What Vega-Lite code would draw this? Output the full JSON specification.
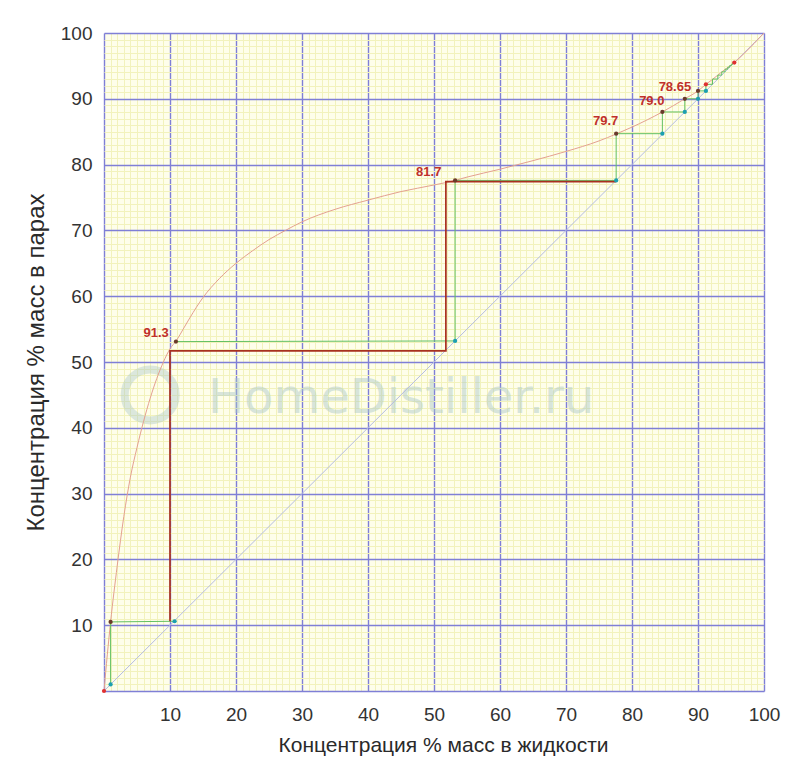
{
  "$schema": "https://vega.github.io/schema/vega-lite/v6.json",
  "autosize": {"type": "none"},
  "padding": {"left": 104, "top": 33, "right": 36, "bottom": 75},
  "width": 660,
  "height": 658,
  "background": "#ffffff",
  "config": {
    "view": {"fill": "#fefeea", "stroke": null},
    "font": "Liberation Sans",
    "axis": {
      "grid": true,
      "ticks": false,
      "domain": false,
      "labelOverlap": false,
      "labelBound": false,
      "labelFlush": false,
      "labelFont": "Liberation Sans",
      "labelFontSize": 19,
      "labelColor": "#333333",
      "titleFont": "Liberation Sans",
      "titleFontWeight": "normal",
      "titleColor": "#2a2a2a",
      "labelExpr": "datum.value % 10 === 0 && datum.value > 0 ? datum.label : ''",
      "gridColor": {"condition": {"test": "datum.value % 10 === 0", "value": "#7f7fd6"}, "value": "#f2f2bc"},
      "gridWidth": {"condition": {"test": "datum.value % 10 === 0", "value": 1.4}, "value": 1}
    }
  },
  "datasets": {
    "curve": [
      {"x": 0, "y": 0}, {"x": 0.5, "y": 5.5}, {"x": 1, "y": 10.5}, {"x": 2, "y": 19.0}, {"x": 3, "y": 26.5},
      {"x": 4, "y": 32.5}, {"x": 5, "y": 37.0}, {"x": 6, "y": 41.0}, {"x": 7, "y": 44.5}, {"x": 8, "y": 47.5},
      {"x": 9, "y": 50.0}, {"x": 10, "y": 52.0}, {"x": 11, "y": 53.3}, {"x": 12, "y": 55.0}, {"x": 13, "y": 56.7},
      {"x": 15, "y": 59.8}, {"x": 17.5, "y": 62.7}, {"x": 20, "y": 65.0}, {"x": 22.5, "y": 66.9}, {"x": 25, "y": 68.6},
      {"x": 27.5, "y": 70.0}, {"x": 30, "y": 71.3}, {"x": 35, "y": 73.2}, {"x": 40, "y": 74.6}, {"x": 45, "y": 75.9},
      {"x": 50, "y": 76.9}, {"x": 53.2, "y": 77.6}, {"x": 55, "y": 78.1}, {"x": 60, "y": 79.3}, {"x": 65, "y": 80.6},
      {"x": 70, "y": 82.0}, {"x": 75, "y": 83.6}, {"x": 77.6, "y": 84.65}, {"x": 80, "y": 85.7}, {"x": 84.6, "y": 88.0},
      {"x": 88, "y": 90.0}, {"x": 90, "y": 91.2}, {"x": 91.2, "y": 92.2}, {"x": 92, "y": 92.8}, {"x": 93, "y": 93.6},
      {"x": 94, "y": 94.4}, {"x": 95, "y": 95.1}, {"x": 95.5, "y": 95.5}, {"x": 97, "y": 96.9}, {"x": 98.5, "y": 98.4},
      {"x": 100, "y": 100}
    ],
    "diag": [{"x": 0, "y": 0}, {"x": 100, "y": 100}],
    "green": [
      {"seg": "a", "o": 1, "x": 1, "y": 1}, {"seg": "a", "o": 2, "x": 1, "y": 10.5}, {"seg": "a", "o": 3, "x": 10.7, "y": 10.6},
      {"seg": "b", "o": 1, "x": 10.9, "y": 53.1}, {"seg": "b", "o": 2, "x": 53.2, "y": 53.2}, {"seg": "b", "o": 3, "x": 53.2, "y": 77.6},
      {"seg": "b", "o": 4, "x": 77.6, "y": 77.6}, {"seg": "b", "o": 5, "x": 77.6, "y": 84.7}, {"seg": "b", "o": 6, "x": 84.6, "y": 84.7},
      {"seg": "b", "o": 7, "x": 84.6, "y": 88.0}, {"seg": "b", "o": 8, "x": 88.0, "y": 88.0}, {"seg": "b", "o": 9, "x": 88.0, "y": 90.0},
      {"seg": "b", "o": 10, "x": 90.0, "y": 90.0}, {"seg": "b", "o": 11, "x": 90.0, "y": 91.2}, {"seg": "b", "o": 12, "x": 91.2, "y": 91.2},
      {"seg": "b", "o": 13, "x": 91.2, "y": 92.2}, {"seg": "b", "o": 14, "x": 92.2, "y": 92.2}, {"seg": "b", "o": 15, "x": 92.2, "y": 93.0},
      {"seg": "b", "o": 16, "x": 93.0, "y": 93.0}, {"seg": "b", "o": 17, "x": 93.0, "y": 93.6}, {"seg": "b", "o": 18, "x": 93.6, "y": 93.6},
      {"seg": "b", "o": 19, "x": 93.6, "y": 94.1}, {"seg": "b", "o": 20, "x": 94.1, "y": 94.1}, {"seg": "b", "o": 21, "x": 94.1, "y": 94.5},
      {"seg": "b", "o": 22, "x": 94.5, "y": 94.5}, {"seg": "b", "o": 23, "x": 94.5, "y": 94.8}, {"seg": "b", "o": 24, "x": 94.8, "y": 94.8},
      {"seg": "b", "o": 25, "x": 94.8, "y": 95.05}, {"seg": "b", "o": 26, "x": 95.05, "y": 95.05}, {"seg": "b", "o": 27, "x": 95.05, "y": 95.25},
      {"seg": "b", "o": 28, "x": 95.25, "y": 95.25}, {"seg": "b", "o": 29, "x": 95.25, "y": 95.4}, {"seg": "b", "o": 30, "x": 95.5, "y": 95.5}
    ],
    "brown": [
      {"o": 1, "x": 10.0, "y": 10.6}, {"o": 2, "x": 10.0, "y": 51.7}, {"o": 3, "x": 51.8, "y": 51.7},
      {"o": 4, "x": 51.8, "y": 77.4}, {"o": 5, "x": 77.6, "y": 77.4}
    ],
    "points": [
      {"kind": "red", "x": 0, "y": 0},
      {"kind": "diag", "x": 1, "y": 1},
      {"kind": "curve", "x": 1, "y": 10.5},
      {"kind": "diag", "x": 10.7, "y": 10.6},
      {"kind": "curve", "x": 10.9, "y": 53.1},
      {"kind": "diag", "x": 53.2, "y": 53.2},
      {"kind": "curve", "x": 53.2, "y": 77.6},
      {"kind": "diag", "x": 77.6, "y": 77.6},
      {"kind": "curve", "x": 77.6, "y": 84.7},
      {"kind": "diag", "x": 84.6, "y": 84.7},
      {"kind": "curve", "x": 84.6, "y": 88.0},
      {"kind": "diag", "x": 88.0, "y": 88.0},
      {"kind": "curve", "x": 88.0, "y": 90.0},
      {"kind": "diag", "x": 90.0, "y": 90.0},
      {"kind": "curve", "x": 90.0, "y": 91.2},
      {"kind": "diag", "x": 91.2, "y": 91.2},
      {"kind": "red", "x": 91.2, "y": 92.2},
      {"kind": "red", "x": 95.5, "y": 95.5}
    ],
    "labels": [
      {"text": "91.3", "x": 7.9, "y": 54.4},
      {"text": "81.7", "x": 49.2, "y": 78.9},
      {"text": "79.7", "x": 76.0, "y": 86.6},
      {"text": "79.0", "x": 83.0, "y": 89.6},
      {"text": "78.65", "x": 86.5, "y": 91.8}
    ],
    "watermark": [{"text": "HomeDistiller.ru", "x": 45.0, "y": 42.3, "lx": 7.0, "ly": 45.0}]
  },
  "layer": [
    {
      "data": {"name": "watermark"},
      "mark": {"type": "text", "font": "DejaVu Sans", "fontSize": 48, "color": "#a8c6c8", "opacity": 0.45, "align": "center", "baseline": "alphabetic"},
      "encoding": {
        "x": {"field": "x", "type": "quantitative", "scale": {"domain": [0, 100], "nice": false}, "title": "Концентрация % масс в жидкости",
          "axis": {"titleFontSize": 21, "labelPadding": 14, "titlePadding": 10, "titleX": 339, "tickCount": 101,
            "values": [0,1,2,3,4,5,6,7,8,9,10,11,12,13,14,15,16,17,18,19,20,21,22,23,24,25,26,27,28,29,30,31,32,33,34,35,36,37,38,39,40,41,42,43,44,45,46,47,48,49,50,51,52,53,54,55,56,57,58,59,60,61,62,63,64,65,66,67,68,69,70,71,72,73,74,75,76,77,78,79,80,81,82,83,84,85,86,87,88,89,90,91,92,93,94,95,96,97,98,99,100]}},
        "y": {"field": "y", "type": "quantitative", "scale": {"domain": [0, 100], "nice": false}, "title": "Концентрация % масс в парах",
          "axis": {"titleFontSize": 24, "labelPadding": 12, "titlePadding": 12, "tickCount": 101,
            "values": [0,1,2,3,4,5,6,7,8,9,10,11,12,13,14,15,16,17,18,19,20,21,22,23,24,25,26,27,28,29,30,31,32,33,34,35,36,37,38,39,40,41,42,43,44,45,46,47,48,49,50,51,52,53,54,55,56,57,58,59,60,61,62,63,64,65,66,67,68,69,70,71,72,73,74,75,76,77,78,79,80,81,82,83,84,85,86,87,88,89,90,91,92,93,94,95,96,97,98,99,100]}},
        "text": {"field": "text"}
      }
    },
    {
      "data": {"name": "watermark"},
      "mark": {"type": "point", "shape": "circle", "filled": false, "size": 2600, "strokeWidth": 8, "color": "#a8c6c8", "opacity": 0.4},
      "encoding": {
        "x": {"field": "lx", "type": "quantitative"},
        "y": {"field": "ly", "type": "quantitative"}
      }
    },
    {
      "data": {"name": "diag"},
      "mark": {"type": "line", "color": "#b4bce0", "strokeWidth": 1},
      "encoding": {
        "x": {"field": "x", "type": "quantitative"},
        "y": {"field": "y", "type": "quantitative"}
      }
    },
    {
      "data": {"name": "curve"},
      "mark": {"type": "line", "color": "#e4a090", "strokeWidth": 1, "interpolate": "monotone"},
      "encoding": {
        "x": {"field": "x", "type": "quantitative"},
        "y": {"field": "y", "type": "quantitative"}
      }
    },
    {
      "data": {"name": "green"},
      "mark": {"type": "line", "color": "#62c062", "strokeWidth": 1},
      "encoding": {
        "x": {"field": "x", "type": "quantitative"},
        "y": {"field": "y", "type": "quantitative"},
        "detail": {"field": "seg"},
        "order": {"field": "o"}
      }
    },
    {
      "data": {"name": "brown"},
      "mark": {"type": "line", "color": "#a8301f", "strokeWidth": 1.7},
      "encoding": {
        "x": {"field": "x", "type": "quantitative"},
        "y": {"field": "y", "type": "quantitative"},
        "order": {"field": "o"}
      }
    },
    {
      "data": {"name": "points"},
      "mark": {"type": "circle", "size": 18, "opacity": 1},
      "encoding": {
        "x": {"field": "x", "type": "quantitative"},
        "y": {"field": "y", "type": "quantitative"},
        "color": {"field": "kind", "type": "nominal", "scale": {"domain": ["curve", "diag", "red"], "range": ["#6a3a2a", "#1c9fb0", "#e03030"]}, "legend": null}
      }
    },
    {
      "data": {"name": "labels"},
      "mark": {"type": "text", "font": "Liberation Sans", "fontSize": 13, "fontWeight": "bold", "color": "#c0302a", "align": "center", "baseline": "middle"},
      "encoding": {
        "x": {"field": "x", "type": "quantitative"},
        "y": {"field": "y", "type": "quantitative"},
        "text": {"field": "text"}
      }
    }
  ]
}
